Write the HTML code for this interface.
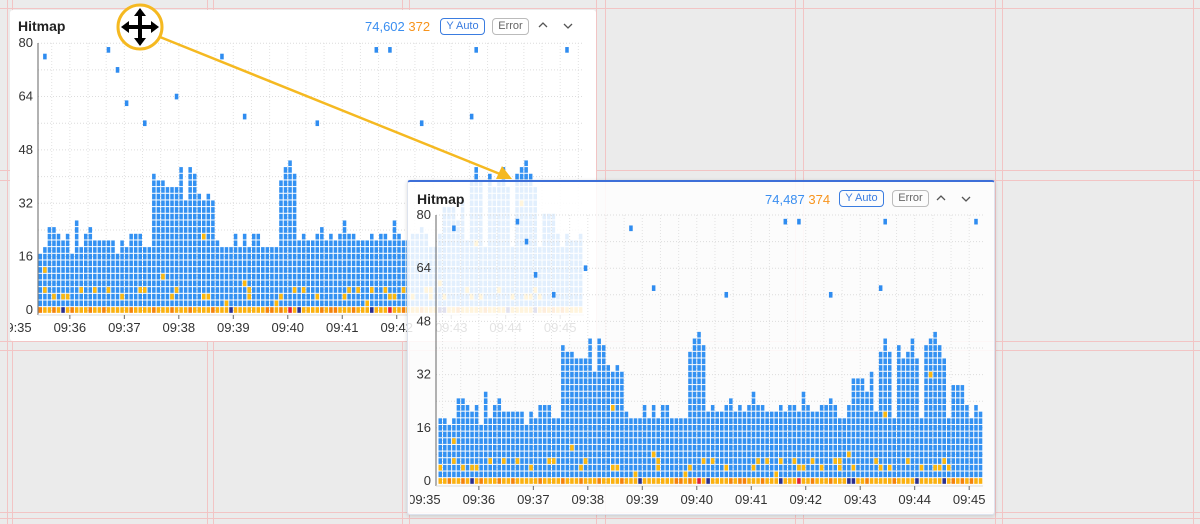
<!DOCTYPE html>
<html><head><meta charset="utf-8">
<style>
body{margin:0;width:1200px;height:524px;overflow:hidden;background:#ebebeb;font-family:"Liberation Sans",sans-serif;position:relative}
.vl{position:absolute;top:0;width:1px;height:524px;background:#f2c4c4}
.hl{position:absolute;left:0;height:1px;width:1200px;background:#f2c4c4}
.panel{position:absolute;background:#fff;border-radius:3px}
.title{position:absolute;font-weight:bold;font-size:14px;color:#222}
.cnt{position:absolute;font-size:13px}
.btn{position:absolute;font-size:11px;border-radius:4px;height:15px;line-height:15px;text-align:center}
.chev{position:absolute}
</style></head><body>
<div class="vl" style="left:7px"></div><div class="vl" style="left:12px"></div>
<div class="vl" style="left:207px"></div><div class="vl" style="left:213px"></div>
<div class="vl" style="left:402px"></div><div class="vl" style="left:409px"></div>
<div class="vl" style="left:596px"></div><div class="vl" style="left:605px"></div>
<div class="vl" style="left:795px"></div><div class="vl" style="left:803px"></div>
<div class="vl" style="left:995px"></div><div class="vl" style="left:1002px"></div>
<div class="vl" style="left:1193px"></div>
<div class="hl" style="top:8px"></div><div class="hl" style="top:170px"></div><div class="hl" style="top:180px"></div>
<div class="hl" style="top:341px"></div><div class="hl" style="top:350px"></div><div class="hl" style="top:512px"></div><div class="hl" style="top:518px"></div>

<div class="panel" style="left:10px;top:10px;width:586px;height:331px"></div>
<div class="title" style="left:18px;top:18px">Hitmap</div>
<div class="cnt" style="left:365px;top:19px;color:#3a8ef0">74,602 <span style="color:#f7941d">372</span></div>
<div class="btn" style="left:440px;top:18px;width:43px;border:1px solid #3a7ce0;color:#3a7ce0">Y Auto</div>
<div class="btn" style="left:492px;top:18px;width:35px;border:1px solid #bbb;color:#666">Error</div>
<svg class="chev" style="left:538px;top:21px" width="10" height="8"><polyline points="1,6 5,2 9,6" fill="none" stroke="#555" stroke-width="1.3"/></svg>
<svg class="chev" style="left:563px;top:22px" width="10" height="8"><polyline points="1,2 5,6 9,2" fill="none" stroke="#555" stroke-width="1.3"/></svg>
<svg id="back" style="position:absolute;left:0;top:0" width="1200" height="524"></svg>

<div class="panel" style="left:407px;top:180px;width:586px;height:332px;background:rgba(255,255,255,0.86);border:1px solid #dde3ee;border-top:2px solid #3d6fd8;box-shadow:0 1px 4px rgba(0,0,0,0.15)"></div>
<div class="title" style="left:417px;top:191px">Hitmap</div>
<div class="cnt" style="left:765px;top:192px;color:#3a8ef0">74,487 <span style="color:#f7941d">374</span></div>
<div class="btn" style="left:839px;top:190px;width:43px;border:1px solid #3a7ce0;color:#3a7ce0">Y Auto</div>
<div class="btn" style="left:892px;top:190px;width:35px;border:1px solid #bbb;color:#666">Error</div>
<svg class="chev" style="left:936px;top:194px" width="10" height="8"><polyline points="1,6 5,2 9,6" fill="none" stroke="#555" stroke-width="1.3"/></svg>
<svg class="chev" style="left:961px;top:195px" width="10" height="8"><polyline points="1,2 5,6 9,2" fill="none" stroke="#555" stroke-width="1.3"/></svg>
<svg id="front" style="position:absolute;left:0;top:0" width="1200" height="524"></svg>

<svg style="position:absolute;left:0;top:0" width="1200" height="524">
<line x1="160" y1="37" x2="500" y2="174" stroke="#f5b921" stroke-width="2.5"/>
<polygon points="512,179 496,179 502,166" fill="#f5b921"/>
<circle cx="140" cy="27" r="22" fill="#fff" stroke="#f5b921" stroke-width="3"/>
<g fill="#000">
<rect x="138" y="14" width="4" height="26"/><rect x="127" y="25" width="26" height="4"/>
<polygon points="140,8 134,16 146,16"/><polygon points="140,46 134,38 146,38"/>
<polygon points="121,27 129,21 129,33"/><polygon points="159,27 151,21 151,33"/>
</g>
</svg>

<script>
const timeLabels=["09:35","09:36","09:37","09:38","09:39","09:40","09:41","09:42","09:43","09:44","09:45"];
const yTicks=[0,16,32,48,64,80];
// top occupied row per 5-second column (row = 2 units)
const tops=[9,9,8,9,12,12,11,10,11,8, 13,9,11,12,10,10,10,10,10,8,
10,9,11,11,11,9,9,20,19,19, 18,18,18,21,16,21,20,17,16,17,
16,10,9,9,9,11,9,11,9,11, 11,9,9,9,9,19,21,22,20,10,
11,10,10,11,12,10,11,10,11,13, 11,11,10,10,10,11,10,11,11,10,
13,11,10,10,11,11,12,11,9,9, 11,15,15,15,13,16,10,19,21,19,
9,20,18,19,21,18,9,20,21,22, 20,18,9,14,14,14,11,9,11,10, 10,11];
const outliers=[[3,38],[17,39],[19,36],[21,31],[25,28],[32,32],[42,38],[47,29],[63,28],[76,39],[79,39],[86,28],[97,29],[98,39],[118,39]];
const yellowCells=[[0,2],[5,2],[7,2],[8,2],[20,2],[31,2],[38,2],[39,2],[48,2],[55,2],[63,2],[69,2],[79,2],[80,2],[84,2],[88,2],[91,2],[97,2],[99,2],[106,2],[109,2],[110,2],[112,2],
[3,3],[11,3],[14,3],[17,3],[24,3],[25,3],[32,3],[48,3],[58,3],[60,3],[70,3],[72,3],[75,3],[78,3],[82,3],[87,3],[88,3],[96,3],[103,3],[111,3],
[43,1],[54,1],[74,1],[47,4],[90,4],[29,5],[3,6],[98,10],[108,16],[38,11]];
const navyCols=[7,44,59,75,90,91,105,111];
const redCols=[57,79];
const orangeCols=[2,5,9,13,16,22,27,31,35,40,52,53,55,64,66,67,71,82,86,94,100,113,115,117];

function draw(svgId,x0,axisX,y0,cw,rh,yTop,xMax,labY,clipL,clipR){
  const svg=document.getElementById(svgId);const NS="http://www.w3.org/2000/svg";
  const colX=c=>x0+c*cw;
  const rowY=r=>y0-r*rh;
  const defs=document.createElementNS(NS,'defs');svg.appendChild(defs);
  const cp=document.createElementNS(NS,'clipPath');cp.setAttribute('id',svgId+'clip');defs.appendChild(cp);
  const cr=document.createElementNS(NS,'rect');cr.setAttribute('x',clipL);cr.setAttribute('y',0);cr.setAttribute('width',clipR-clipL);cr.setAttribute('height',524);cp.appendChild(cr);
  const grp=document.createElementNS(NS,'g');grp.setAttribute('clip-path','url(#'+svgId+'clip)');svg.appendChild(grp);
  const mk=(t,a)=>{const e=document.createElementNS(NS,t);for(const k in a)e.setAttribute(k,a[k]);grp.appendChild(e);return e;};
  for(let v=8;v<=80;v+=8){const g=mk('line',{x1:axisX,x2:xMax,y1:rowY(v/2),y2:rowY(v/2),stroke:'#dcdcdc','stroke-dasharray':'1,2'});
  
  }
  for(let c=1;c<124;c+=4){const x=colX(c);if(x<=axisX||x>xMax)continue;const g=mk('line',{x1:x,x2:x,y1:yTop,y2:y0+3,stroke:'#e2e2e2','stroke-dasharray':'1,2'});
  
  }
  const cell=(c,r,col)=>{const x=colX(c);if(x<axisX||x+cw>xMax+2)return;
    const e=mk('rect',{x:x+0.5,y:rowY(r)-rh/2+0.5,width:cw-1,height:rh-1,fill:col});
    
    };
  tops.forEach((t,c)=>{
    let bc=navyCols.includes(c)?'#2b2f8f':redCols.includes(c)?'#e0203a':orangeCols.includes(c)?'#f5820a':'#fbb10f';
    cell(c,0,bc);
    for(let r=1;r<=t;r++)cell(c,r,'#3391f2');
  });
  yellowCells.forEach(([c,r])=>cell(c,r,'#fbb80f'));
  outliers.forEach(([c,r])=>cell(c,r,'#2f8cf0'));
  mk('line',{x1:axisX,x2:axisX,y1:yTop,y2:y0+5,stroke:'#666','stroke-width':1});
  mk('line',{x1:axisX,x2:xMax,y1:y0+5,y2:y0+5,stroke:'#ddd','stroke-width':1});
  yTicks.forEach(v=>{const t=mk('text',{x:axisX-5,y:rowY(v/2)+4,'text-anchor':'end','font-size':13,fill:'#333'});t.textContent=v;
    
    });
  timeLabels.forEach((s,i)=>{const c=9+12*(i-1);const x=colX(c);if(x>xMax+20)return;
    const t=mk('text',{x:x,y:labY,'text-anchor':'middle','font-size':13,fill:'#333'});t.textContent=s;
    
    
    if(x>axisX)mk('line',{x1:x,x2:x,y1:y0+5,y2:y0+9,stroke:'#666'});});
}
draw('back',29,38,310,4.54,6.67,43,584,332,10,596);
draw('front',438,436,481,4.54,6.65,215,983,504,410,993);
</script>
</body></html>
